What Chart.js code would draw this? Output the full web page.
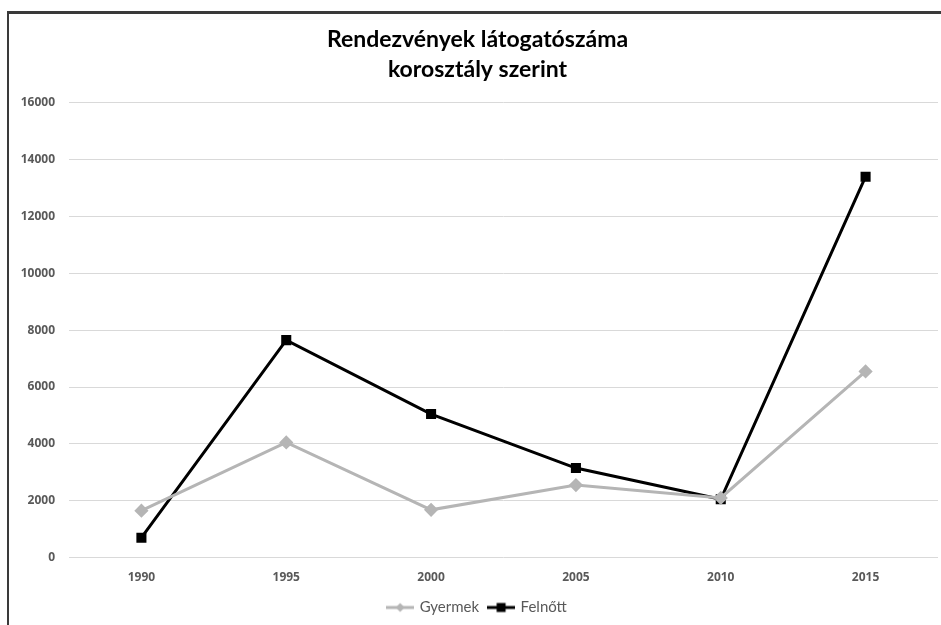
<!DOCTYPE html>
<html lang="hu">
<head>
  <meta charset="UTF-8">
  <title>Rendezvények látogatószáma</title>
  <script src="https://cdn.jsdelivr.net/npm/chart.js"></script>
  <style>
    html, body { margin: 0; padding: 0; background: #fff; overflow: hidden; }
    #frame {
      position: absolute; left: 7px; top: 11px; width: 960px; height: 640px;
      border-left: 2px solid #3a3a3a; border-top: 3px solid #3a3a3a;
    }
    #wrap { position: absolute; left: 0; top: 0; width: 946px; height: 625px; }
  </style>
</head>
<body>
  <div id="frame"></div>
  <div id="wrap"><canvas id="chart"></canvas></div>

  <script>
    const years = ["1990", "1995", "2000", "2005", "2010", "2015"];
    const gyermek = [1650, 4050, 1680, 2550, 2100, 6550];
    const felnott = [700, 7650, 5050, 3150, 2050, 13400];
    const titleLines = ["Rendezvények látogatószáma", "korosztály szerint"];

    const GRAY = "#b5b5b5";
    const BLACK = "#000000";
    const tickFont = { family: "'Open Sans'", size: 12, weight: "bold" };

    // legend symbol: short line with the marker in the middle (Excel style)
    function legendIcon(color, shape) {
      const c = document.createElement("canvas");
      c.width = 28; c.height = 12;
      const g = c.getContext("2d");
      g.strokeStyle = color; g.lineWidth = 3;
      g.beginPath(); g.moveTo(0, 6); g.lineTo(28, 6); g.stroke();
      g.fillStyle = color;
      if (shape === "diamond") {
        g.beginPath(); g.moveTo(14, 1.5); g.lineTo(18.5, 6); g.lineTo(14, 10.5); g.lineTo(9.5, 6); g.closePath(); g.fill();
      } else {
        g.fillRect(9.5, 1.5, 9, 9);
      }
      return c;
    }
    const icons = [legendIcon(GRAY, "diamond"), legendIcon(BLACK, "square")];

    new Chart(document.getElementById("chart"), {
      type: "line",
      data: {
        labels: years,
        datasets: [
          {
            label: "Gyermek",
            data: gyermek,
            borderColor: GRAY,
            backgroundColor: GRAY,
            borderWidth: 3,
            pointStyle: "rectRot",
            pointRadius: 5,
            pointHoverRadius: 5,
            tension: 0
          },
          {
            label: "Felnőtt",
            data: felnott,
            borderColor: BLACK,
            backgroundColor: BLACK,
            borderWidth: 3,
            pointStyle: "rect",
            pointRadius: 5,
            pointHoverRadius: 5,
            tension: 0
          }
        ]
      },
      options: {
        responsive: true,
        maintainAspectRatio: false,
        animation: false,
        layout: { padding: { left: 9, right: 0, top: 12, bottom: 0 } },
        plugins: {
          title: {
            display: true,
            text: titleLines,
            color: "#000",
            font: { family: "Lato", size: 23, weight: "bold", lineHeight: 1.3 },
            padding: { top: 13, bottom: 18 }
          },
          legend: {
            position: "bottom",
            labels: {
              color: "#595959",
              font: { family: "Lato", size: 15 },
              usePointStyle: true,
              pointStyleWidth: 24,
              padding: 10,
              generateLabels: chart => chart.data.datasets.map((ds, i) => ({
                text: ds.label,
                fontColor: "#595959",
                pointStyle: icons[i],
                datasetIndex: i,
                hidden: false,
                lineWidth: 0
              }))
            }
          },
          tooltip: { enabled: false }
        },
        scales: {
          x: {
            offset: true,
            grid: { display: false },
            border: { display: false },
            ticks: {
              color: "#595959",
              font: tickFont,
              padding: 5
            }
          },
          y: {
            min: 0,
            max: 16000,
            afterFit: s => { s.width = 60; },
            grid: { color: "#d9d9d9", lineWidth: 1, drawTicks: false },
            border: { display: false },
            ticks: {
              stepSize: 2000,
              color: "#595959",
              font: tickFont,
              padding: 14,
              callback: v => String(v)
            }
          }
        }
      }
    });
  </script>
</body>
</html>
